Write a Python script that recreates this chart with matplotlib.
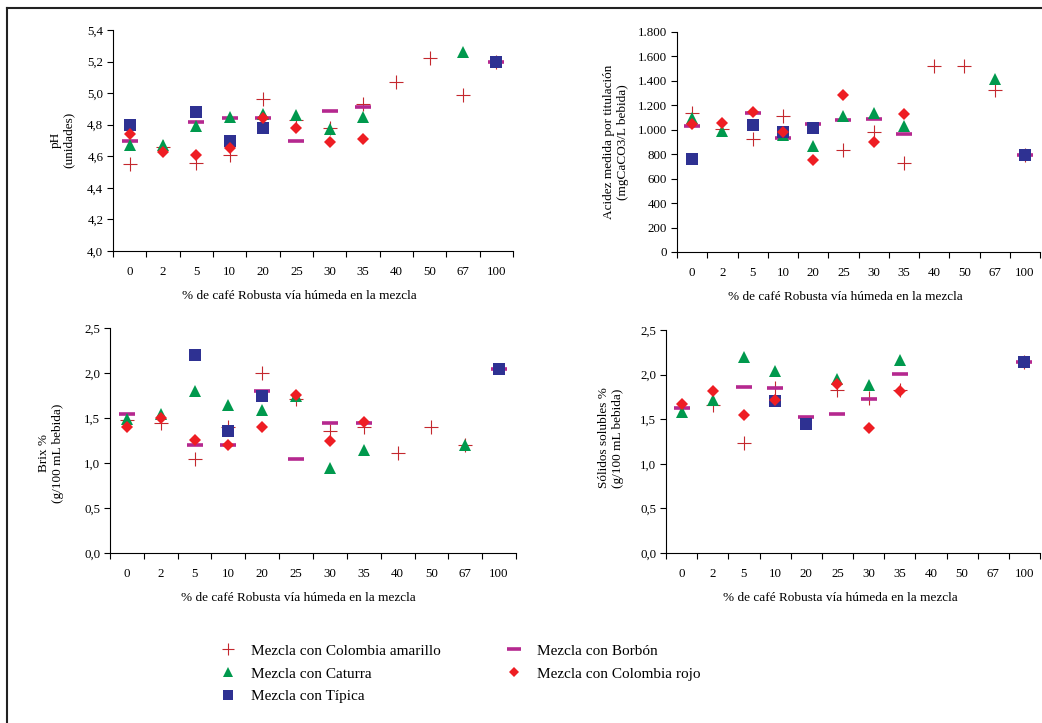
import numpy as np
import matplotlib
matplotlib.use("Agg")
import matplotlib.pyplot as plt
from matplotlib.lines import Line2D
from matplotlib.ticker import FuncFormatter, FixedLocator

plt.rcParams['font.family'] = ['Liberation Serif', 'DejaVu Serif']

nan = np.nan

# categorias del eje x (% de Robusta)
categorias = ["0", "2", "5", "10", "20", "25", "30", "35", "40", "50", "67", "100"]

# ---- pH ----
ph_amarillo = [4.55, 4.66, 4.56, 4.61, 4.96, 4.83, 4.78, 4.93, 5.07, 5.22, 4.99, 5.20]
ph_caturra  = [4.67, 4.67, 4.79, 4.85, 4.87, 4.86, 4.77, 4.85, nan, nan, 5.26, nan]
ph_tipica   = [4.80, nan, 4.88, 4.70, 4.78, nan, nan, nan, nan, nan, nan, 5.20]
ph_borbon   = [4.70, nan, 4.82, 4.84, 4.84, 4.70, 4.89, 4.91, nan, nan, nan, 5.20]
ph_rojo     = [4.74, 4.63, 4.61, 4.65, 4.84, 4.78, 4.69, 4.71, nan, nan, nan, nan]

# ---- Acidez (mgCaCO3/L) ----
ac_amarillo = [1135, 1004, 925, 1115, nan, 835, 980, 725, 1525, 1525, 1325, 790]
ac_caturra  = [1095, 990, nan, 960, 870, 1115, 1135, 1030, nan, nan, 1415, nan]
ac_tipica   = [758, nan, 1039, 979, 1012, nan, nan, nan, nan, nan, nan, 794]
ac_borbon   = [1031, nan, 1135, 930, 1044, 1080, 1088, 968, nan, nan, nan, 794]
ac_rojo     = [1050, 1053, 1148, 985, 755, 1282, 902, 1128, nan, nan, nan, nan]

# ---- Brix % ----
bx_amarillo = [1.48, 1.45, 1.05, 1.40, 2.00, 1.71, 1.36, 1.40, 1.11, 1.40, 1.20, nan]
bx_caturra  = [1.49, 1.55, 1.80, 1.65, 1.59, 1.75, 0.95, 1.14, nan, nan, 1.20, nan]
bx_tipica   = [nan, nan, 2.20, 1.36, 1.75, nan, nan, nan, nan, nan, nan, 2.05]
bx_borbon   = [1.55, nan, 1.20, 1.20, 1.80, 1.05, 1.45, 1.45, nan, nan, nan, 2.05]
bx_rojo     = [1.40, 1.50, 1.26, 1.20, 1.40, 1.76, 1.25, 1.46, nan, nan, nan, nan]

# ---- Solidos solubles % ----
ss_amarillo = [1.63, 1.66, 1.23, 1.85, nan, 1.83, 1.74, 1.83, nan, nan, nan, 2.14]
ss_caturra  = [1.58, 1.71, 2.20, 2.04, nan, 1.95, 1.88, 2.16, nan, nan, nan, nan]
ss_tipica   = [nan, nan, nan, 1.70, 1.45, nan, nan, nan, nan, nan, nan, 2.14]
ss_borbon   = [1.63, nan, 1.86, 1.85, 1.52, 1.56, 1.73, 2.01, nan, nan, nan, 2.14]
ss_rojo     = [1.67, 1.82, 1.55, 1.72, nan, 1.89, 1.40, 1.82, nan, nan, nan, nan]

series_labels = ["Mezcla con Colombia amarillo", "Mezcla con Caturra", "Mezcla con Típica",
                 "Mezcla con Borbón", "Mezcla con Colombia rojo"]

# estilos (marker, color, size, edge width)
st_amarillo = dict(marker='+', color='#C4282E', ms=9.5, mew=0.8, zorder=3)
st_borbon   = dict(marker='_', color='#B5288F', ms=11.5, mew=2.6, zorder=4)
st_caturra  = dict(marker='^', color='#00994D', ms=8.5, mew=0, zorder=5)
st_tipica   = dict(marker='s', color='#2E3192', ms=8.5, mew=0, zorder=6)
st_rojo     = dict(marker='D', color='#EE1D23', ms=6.5, mew=0, zorder=7)

W, H = 1042, 723
fig = plt.figure(figsize=(W / 100, H / 100), dpi=100)


def px_axes(left, right, top, bottom):
    return fig.add_axes([left / W, 1 - bottom / H, (right - left) / W, (bottom - top) / H])


def draw_panel(ax, amarillo, caturra, tipica, borbon, rojo, ymax, ystep, fmt, ymin=0):
    x = np.arange(len(categorias))
    ax.plot(x, amarillo, linestyle='none', **st_amarillo)
    ax.plot(x, borbon, linestyle='none', **st_borbon)
    ax.plot(x, caturra, linestyle='none', **st_caturra)
    ax.plot(x, tipica, linestyle='none', **st_tipica)
    ax.plot(x, rojo, linestyle='none', **st_rojo)
    ax.set_xlim(-0.5, len(categorias) - 0.5)
    ax.set_ylim(ymin, ymax)
    ax.set_yticks(np.arange(ymin, ymax + ystep / 2, ystep))
    ax.yaxis.set_major_formatter(FuncFormatter(fmt))
    ax.xaxis.set_major_locator(FixedLocator(np.arange(-0.5, len(categorias), 1.0)))
    ax.xaxis.set_minor_locator(FixedLocator(x))
    ax.set_xticklabels([], minor=False)
    ax.set_xticklabels(categorias, minor=True)
    ax.tick_params(axis='x', which='major', direction='out', length=4, width=0.8)
    ax.tick_params(axis='x', which='minor', length=0, pad=11, labelsize=9.3)
    ax.tick_params(axis='y', direction='out', length=4, width=0.8, pad=3, labelsize=9.3)
    for s in ['top', 'right']:
        ax.spines[s].set_visible(False)
    for s in ['left', 'bottom']:
        ax.spines[s].set_linewidth(0.8)
    ax.set_facecolor('none')


comma1 = lambda v, p: f"{v:.1f}".replace('.', ',')
miles = lambda v, p: f"{int(round(v)):,}".replace(',', '.')

ax1 = px_axes(113, 513, 30, 251)
draw_panel(ax1, ph_amarillo, ph_caturra, ph_tipica, ph_borbon, ph_rojo, 5.4, 0.2, comma1, ymin=4.0)
ax2 = px_axes(677, 1040, 32, 252)
draw_panel(ax2, ac_amarillo, ac_caturra, ac_tipica, ac_borbon, ac_rojo, 1800, 200, miles)
ax3 = px_axes(110, 516, 328, 553)
draw_panel(ax3, bx_amarillo, bx_caturra, bx_tipica, bx_borbon, bx_rojo, 2.5, 0.5, comma1)
ax4 = px_axes(666, 1040, 330, 553)
draw_panel(ax4, ss_amarillo, ss_caturra, ss_tipica, ss_borbon, ss_rojo, 2.5, 0.5, comma1)

# titulos de ejes
xlab = "% de café Robusta vía húmeda en la mezcla"
for (cx, cy) in [(299, 296), (845, 297), (298, 598), (840, 598)]:
    fig.text(cx / W, 1 - cy / H, xlab, ha='center', va='center', fontsize=9.5)

ylabs = [("pH\n(unidades)", 62, 140),
         ("Acidez medida por titulación\n(mgCaCO3/L bebida)", 616, 142),
         ("Brix %\n(g/100 mL bebida)", 51, 453),
         ("Sólidos solubles %\n(g/100 mL bebida)", 611, 438)]
for txt, cx, cy in ylabs:
    fig.text(cx / W, 1 - cy / H, txt, ha='center', va='center', rotation=90,
             fontsize=9.5, linespacing=1.15)

# leyenda
handles = [Line2D([], [], linestyle='none', **st_amarillo),
           Line2D([], [], linestyle='none', **st_caturra),
           Line2D([], [], linestyle='none', **st_tipica),
           Line2D([], [], linestyle='none', **st_borbon),
           Line2D([], [], linestyle='none', **st_rojo)]
fig.legend(handles, series_labels, ncol=2, loc='upper left',
           bbox_to_anchor=(220 / W, 1 - 644 / H), frameon=False, fontsize=11,
           handlelength=1.0, handletextpad=1.0, columnspacing=4.35,
           labelspacing=0.6, borderpad=0, borderaxespad=0, markerscale=0.85)

# marco
fig.add_artist(Line2D([7 / W, 7 / W], [0, 1 - 8 / H], color='#222222', lw=1.5))
fig.add_artist(Line2D([7 / W, 1], [1 - 8 / H, 1 - 8 / H], color='#222222', lw=1.5))

fig.savefig("out.png", dpi=100)
